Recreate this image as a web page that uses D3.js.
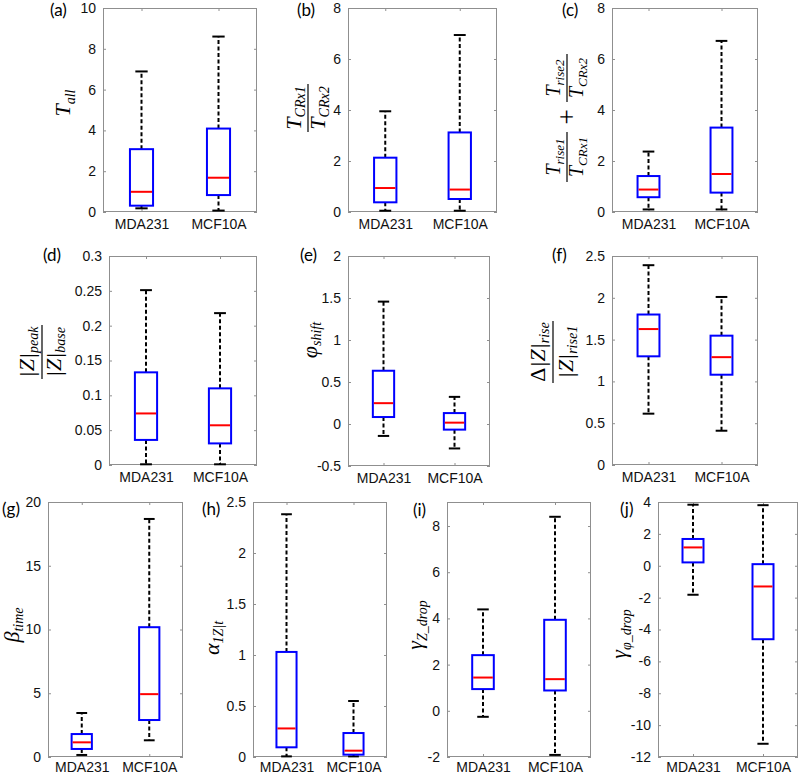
<!DOCTYPE html>
<html><head><meta charset="utf-8">
<script src="https://cdn.jsdelivr.net/npm/d3@7"></script>
<style>body{margin:0;background:#fff} svg{display:block}</style>
</head><body><svg id="c" width="800" height="775"></svg>
<script>
// ---------------- DATA ----------------
const categories = ["MDA231", "MCF10A"];
const panelLetters = ["(a)","(b)","(c)","(d)","(e)","(f)","(g)","(h)","(i)","(j)"];
// five-number summaries: [lower whisker, Q1, median, Q3, upper whisker] for MDA231, MCF10A
const statsA = [[0.18, 0.31, 0.99, 3.08, 6.89], [0.07, 0.83, 1.68, 4.09, 8.60]];
const statsB = [[0.05, 0.38, 0.94, 2.13, 3.95], [0.05, 0.51, 0.88, 3.12, 6.94]];
const statsC = [[0.10, 0.58, 0.88, 1.41, 2.37], [0.10, 0.76, 1.49, 3.31, 6.71]];
const statsD = [[0.001, 0.036, 0.074, 0.133, 0.251], [0.001, 0.031, 0.057, 0.110, 0.218]];
const statsE = [[-0.142, 0.083, 0.248, 0.634, 1.457], [-0.291, -0.067, 0.016, 0.130, 0.323]];
const statsF = [[0.614, 1.30, 1.626, 1.80, 2.39], [0.41, 1.08, 1.29, 1.547, 2.01]];
const statsG = [[0.16, 0.63, 1.15, 1.80, 3.45], [1.31, 2.90, 4.93, 10.18, 18.67]];
const statsH = [[0.006, 0.095, 0.28, 1.03, 2.38], [0.006, 0.023, 0.062, 0.235, 0.549]];
const statsI = [[-0.26, 0.94, 1.44, 2.41, 4.39], [-1.91, 0.88, 1.37, 3.94, 8.40]];
const statsJ = [[-1.82, 0.21, 1.15, 1.68, 3.83], [-11.17, -4.61, -1.30, 0.10, 3.80]];
const allStats = [statsA, statsB, statsC, statsD, statsE, statsF, statsG, statsH, statsI, statsJ];
const yDomains = [[0,10],[0,8],[0,8],[0,0.3],[-0.5,2],[0,2.5],[0,20],[0,2.5],[-2,9.04],[-12,4]];
const yTickValues = [
  [0,2,4,6,8,10],
  [0,2,4,6,8],
  [0,2,4,6,8],
  [0,0.05,0.1,0.15,0.2,0.25,0.3],
  [-0.5,0,0.5,1,1.5,2],
  [0,0.5,1,1.5,2,2.5],
  [0,5,10,15,20],
  [0,0.5,1,1.5,2,2.5],
  [-2,0,2,4,6,8],
  [-12,-10,-8,-6,-4,-2,0,2,4]
];

// ---------------- LAYOUT ----------------
const boxes = [
  {l:103,r:257,t:8,b:212},{l:348,r:497,t:8,b:212},{l:612,r:758,t:8,b:212},
  {l:109,r:257,t:256,b:465},{l:348,r:490,t:256,b:466},{l:612,r:758,t:256,b:465},
  {l:48,r:183,t:502,b:757},{l:253,r:387,t:502,b:757},{l:447,r:591,t:502,b:757},{l:658,r:798,t:502,b:757}
];
const letterPos = [[50,16],[297,16],[562,16],[43,261],[300,261],[552,261],[2,515],[202,515],[413,516],[620,515]];

const svg = d3.select("#c");
const FRAME = "#8f8f8f";
const TICKFONT = "'Liberation Sans', Arial, sans-serif";
const MATH = "'Liberation Serif', 'Times New Roman', serif";

allStats.forEach((stats, i) => {
  const bx = boxes[i];
  const x = d3.scaleLinear().domain([0.5, 2.5]).range([bx.l, bx.r]);
  const y = d3.scaleLinear().domain(yDomains[i]).range([bx.b, bx.t]);
  const g = svg.append("g");

  // axes
  const fmt = d => String(d);
  const left = g.append("g").attr("transform", `translate(${bx.l},0)`)
    .call(d3.axisLeft(y).tickValues(yTickValues[i]).tickFormat(fmt).tickSize(-3).tickPadding(7));
  const right = g.append("g").attr("transform", `translate(${bx.r},0)`)
    .call(d3.axisRight(y).tickValues(yTickValues[i]).tickFormat("").tickSize(-3));
  const pos = categories.map((c, k) => k + 1);
  const bottom = g.append("g").attr("transform", `translate(0,${bx.b})`)
    .call(d3.axisBottom(x).tickValues(pos).tickFormat((d) => categories[d - 1]).tickSize(-3).tickPadding(i >= 6 ? 5 : 7));
  const top = g.append("g").attr("transform", `translate(0,${bx.t})`)
    .call(d3.axisTop(x).tickValues(pos).tickFormat("").tickSize(-3));
  [left, right, bottom, top].forEach(a => {
    a.select(".domain").remove();
    a.selectAll(".tick line").attr("stroke", FRAME).attr("stroke-width", 1);
    a.selectAll(".tick text").attr("fill", "#111").style("font-family", TICKFONT).style("font-size", "14px");
  });
  g.append("rect").attr("x", bx.l + 0.5).attr("y", bx.t + 0.5)
    .attr("width", bx.r - bx.l - 1).attr("height", bx.b - bx.t - 1)
    .attr("fill", "none").attr("stroke", FRAME).attr("stroke-width", 1);

  // boxplots
  const bw = 0.3, cw = 0.16;
  stats.forEach((s, k) => {
    const c = k + 1;
    const [lo, q1, med, q3, hi] = s;
    const bg = g.append("g");
    bg.append("line").attr("x1", x(c)).attr("x2", x(c)).attr("y1", y(q3)).attr("y2", y(hi))
      .attr("stroke", "#000").attr("stroke-width", 2).attr("stroke-dasharray", "4,2.5");
    bg.append("line").attr("x1", x(c)).attr("x2", x(c)).attr("y1", y(q1)).attr("y2", y(lo))
      .attr("stroke", "#000").attr("stroke-width", 2).attr("stroke-dasharray", "4,2.5");
    [lo, hi].forEach(v => bg.append("line")
      .attr("x1", x(c - cw / 2)).attr("x2", x(c + cw / 2)).attr("y1", y(v)).attr("y2", y(v))
      .attr("stroke", "#000").attr("stroke-width", 2));
    bg.append("rect").attr("x", x(c - bw / 2)).attr("y", y(q3))
      .attr("width", x(c + bw / 2) - x(c - bw / 2)).attr("height", y(q1) - y(q3))
      .attr("fill", "none").attr("stroke", "#0000ff").attr("stroke-width", 2);
    bg.append("line").attr("x1", x(c - bw / 2) + 1).attr("x2", x(c + bw / 2) - 1)
      .attr("y1", y(med)).attr("y2", y(med)).attr("stroke", "#ff0000").attr("stroke-width", 2);
  });

  svg.append("text").attr("x", letterPos[i][0]).attr("y", letterPos[i][1])
    .style("font-family", "Lato, 'Open Sans', sans-serif").style("font-size", "17px")
    .attr("fill", "#000").text(panelLetters[i]);
});

// ---------------- MATH Y-LABELS ----------------
function rot(x, y) {
  return svg.append("g").attr("transform", `translate(${x},${y}) rotate(-90)`);
}
// runs: array of [text, size, subscript shift]
function mtext(g, x, y, runs, anchor = "middle") {
  const t = g.append("text").attr("x", x).attr("y", y).attr("text-anchor", anchor)
    .style("font-family", MATH).style("font-style", "italic").attr("fill", "#000");
  let cur = 0;
  runs.forEach(([s, size, shift]) => {
    t.append("tspan").style("font-size", size + "px").attr("dy", shift - cur).text(s);
    cur = shift;
  });
  return t;
}
function fracLine(g, x1, x2) {
  g.append("line").attr("x1", x1).attr("x2", x2).attr("y1", 0).attr("y2", 0)
    .attr("stroke", "#000").attr("stroke-width", 1.2);
}
const B = 22, S = 14;
// (a)
mtext(rot(70, 103), 0, 0, [["T", B, 0], ["all", S, 5]]);
// (b)
{ const g = rot(308, 108);
  mtext(g, 0, -7, [["T", B, 0], ["CRx1", S, 4]]);
  fracLine(g, -24, 24);
  mtext(g, 0, 17, [["T", B, 0], ["CRx2", S, 4]]); }
// (c)
{ const g = rot(567, 118);
  mtext(g, -39, -7, [["T", 20, 0], ["rise1", 13, 4]]);
  g.append("line").attr("x1", -64).attr("x2", -14).attr("y1", 0).attr("y2", 0).attr("stroke", "#000").attr("stroke-width", 1.2);
  mtext(g, -39, 16, [["T", 20, 0], ["CRx1", 13, 4]]);
  g.append("text").attr("x", 1).attr("y", 9).attr("text-anchor", "middle")
    .style("font-family", MATH).style("font-size", "27px").text("+");
  mtext(g, 40, -7, [["T", 20, 0], ["rise2", 13, 4]]);
  g.append("line").attr("x1", 16).attr("x2", 64).attr("y1", 0).attr("y2", 0).attr("stroke", "#000").attr("stroke-width", 1.2);
  mtext(g, 40, 16, [["T", 20, 0], ["CRx2", 13, 4]]); }
// (d)
{ const g = rot(42, 352);
  mtext(g, 0, -8, [["|Z|", B, 0], ["peak", S, 4]]);
  fracLine(g, -27, 27);
  mtext(g, 0, 19, [["|Z|", B, 0], ["base", S, 4]]); }
// (e)
mtext(rot(317, 340), 0, 0, [["φ", B, 0], ["shift", S, 4]]);
// (f)
{ const g = rot(553, 352);
  mtext(g, 0, -8, [["Δ", B, 0], ["|Z|", B, 0], ["rise", S, 4]]).select("tspan").style("font-style", "normal");
  fracLine(g, -31, 31);
  mtext(g, 0, 20, [["|Z|", B, 0], ["rise1", S, 4]]); }
// (g)
mtext(rot(19, 625), 0, 0, [["β", B, 0], ["time", S, 4]]);
// (h)
mtext(rot(219, 638), 0, 0, [["α", B, 0], ["1Z|t", S, 4]]);
// (i)
mtext(rot(422, 625), 0, 0, [["γ", B, 0], ["Z_drop", S, 5]]);
// (j)
mtext(rot(626, 634), 0, 0, [["γ", B, 0], ["φ_drop", S, 5]]);
</script></body></html>
